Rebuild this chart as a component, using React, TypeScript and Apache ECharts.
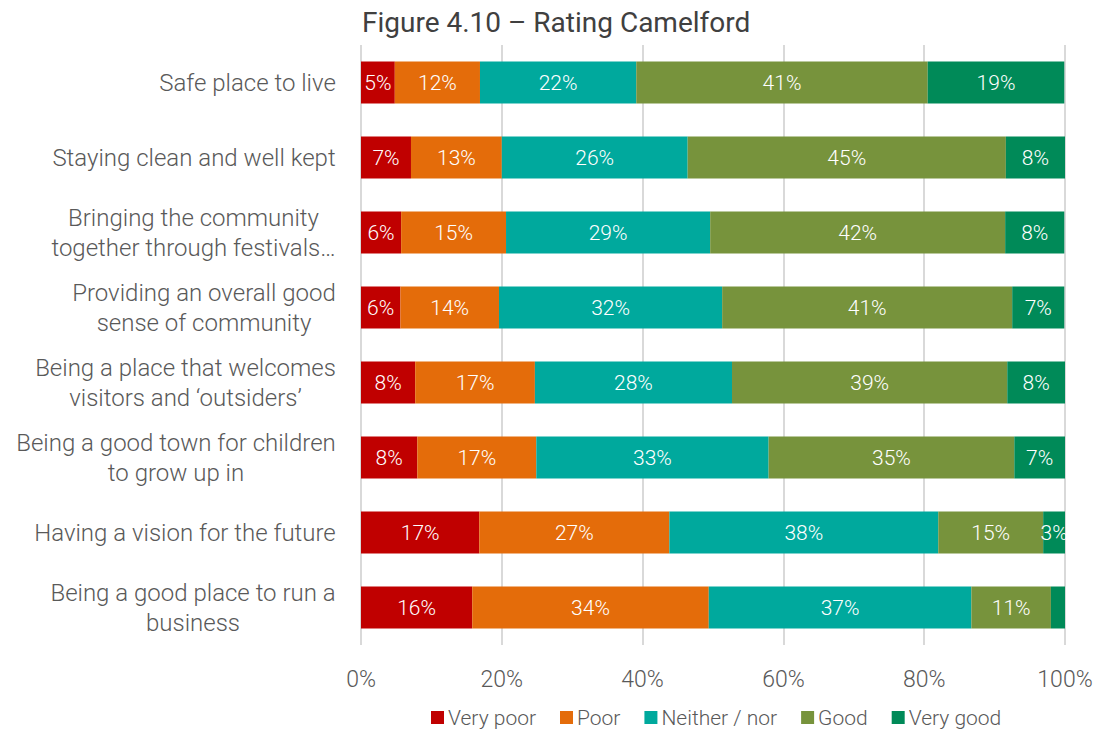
import React, { useEffect, useRef } from "react";
import * as echarts from "echarts";

const categories = [
  "Safe place to live",
  "Staying clean and well kept",
  "Bringing the community\ntogether through festivals…",
  "Providing an overall good\nsense of community",
  "Being a place that welcomes\nvisitors and ‘outsiders’",
  "Being a good town for children\nto grow up in",
  "Having a vision for the future",
  "Being a good place to run a\nbusiness",
];
const seriesNames = ["Very poor", "Poor", "Neither / nor", "Good", "Very good"];
const veryPoor = [4.8, 7.1, 5.7, 5.6, 7.7, 8.0, 16.8, 15.8];
const poor = [12.1, 12.9, 14.9, 14.0, 17.0, 16.9, 27.0, 33.6];
const neither = [22.2, 26.4, 29.0, 31.7, 28.0, 33.0, 38.2, 37.3];
const good = [41.4, 45.2, 41.9, 41.2, 39.1, 34.9, 14.9, 11.3];
const veryGood = [19.4, 8.4, 8.4, 7.4, 8.2, 7.2, 3.1, 2.0];
const xTicks = [0, 20, 40, 60, 80, 100];

const colors = ["#C00000", "#E46C0A", "#00A99D", "#77933C", "#008A58"];
const FONT = "Roboto";

export default function App() {
  const ref = useRef<HTMLDivElement>(null);
  useEffect(() => {
    if (!ref.current) return;
    const chart = echarts.init(ref.current, undefined, { renderer: "svg" });
    const canvas = document.createElement("canvas");
    const ctx = canvas.getContext("2d")!;
    ctx.font = `300 24px ${FONT}`;
    const rich: Record<string, any> = {};
    categories.forEach((c, i) => {
      const lines = c.split("\n");
      const w = Math.ceil(Math.max(...lines.map((l) => ctx.measureText(l).width))) + 2;
      rich["c" + i] = {
        width: w,
        align: "center",
        fontSize: 24,
        fontFamily: FONT,
        fontWeight: 300,
        color: "#595959",
        lineHeight: 30,
      };
    });
    const data = [veryPoor, poor, neither, good, veryGood];
    chart.setOption({
      animation: false,
      title: {
        text: "Figure 4.10 – Rating Camelford",
        left: 357,
        top: 3,
        textStyle: { fontFamily: FONT, fontWeight: 400, fontSize: 28, color: "#404040" },
      },
      legend: {
        left: 431,
        top: 707,
        padding: 0,
        itemWidth: 13,
        itemHeight: 13,
        itemGap: 24,
        icon: "rect",
        textStyle: { fontFamily: FONT, fontWeight: 300, fontSize: 21, color: "#595959", padding: [0, 0, 0, -1] },
        data: seriesNames,
      },
      grid: { left: 361, right: 33, top: 45, bottom: 86 },
      xAxis: {
        type: "value",
        min: 0,
        max: 100,
        interval: 20,
        axisLine: { show: false },
        axisTick: { show: false },
        splitLine: { lineStyle: { color: "#d9d9d9", width: 2 } },
        axisLabel: {
          formatter: (v: number) => (xTicks.includes(v) ? v + "%" : ""),
          fontFamily: FONT,
          fontWeight: 300,
          fontSize: 23,
          color: "#595959",
          margin: 23,
        },
      },
      yAxis: {
        type: "category",
        inverse: true,
        data: categories,
        axisLine: { show: false },
        axisTick: { show: false },
        axisLabel: {
          margin: 24,
          formatter: (v: string) => {
            const i = categories.indexOf(v);
            return v
              .split("\n")
              .map((l) => `{c${i}|${l}}`)
              .join("\n");
          },
          rich,
        },
      },
      series: data.map((d, k) => ({
        name: seriesNames[k],
        type: "bar",
        stack: "total",
        barWidth: 42,
        itemStyle: { color: colors[k] },
        label: {
          show: true,
          position: "inside",
          color: "#ffffff",
          fontFamily: FONT,
          fontWeight: 300,
          fontSize: 21,
          formatter: (p: any) => (p.value < 2.5 ? "" : Math.round(p.value) + "%"),
        },
        data: d,
      })),
    });
    return () => chart.dispose();
  }, []);
  return <div ref={ref} style={{ width: 1098, height: 731, position: "absolute", left: 0, top: 0 }} />;
}
